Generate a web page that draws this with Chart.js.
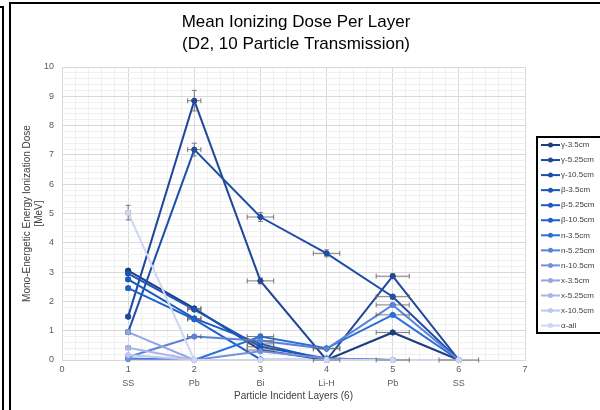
<!DOCTYPE html>
<html>
<head>
<meta charset="utf-8">
<script src="https://cdn.jsdelivr.net/npm/chart.js@4"></script>
<style>
  html, body { margin: 0; padding: 0; background: #fff; }
  #wrap { width: 600px; height: 410px; position: relative; }
</style>
</head>
<body>
<div id="wrap"><canvas id="myChart" width="600" height="410"></canvas></div>
<script>
// layers along x (1..6)
var xPos = [1, 2, 3, 4, 5, 6];
var layerNames = ["", "SS", "Pb", "Bi", "Li-H", "Pb", "SS", ""];

var seriesNames = ["γ-3.5cm", "γ-5.25cm", "γ-10.5cm", "β-3.5cm", "β-5.25cm", "β-10.5cm",
  "n-3.5cm", "n-5.25cm", "n-10.5cm", "x-3.5cm", "x-5.25cm", "x-10.5cm", "α-all"];

// mean dose per layer [MeV]
var gamma35  = [3.05, 1.76, 0.34, 0.00, 0.94, 0];
var gamma525 = [1.48, 8.85, 2.70, 0.00, 2.86, 0];
var gamma105 = [0.95, 7.18, 4.88, 3.64, 2.16, 0];
var beta35   = [2.95, 1.72, 0.45, 0.05, 0.00, 0];
var beta525  = [2.75, 1.42, 0.55, 0.00, 0.00, 0];
var beta105  = [2.45, 1.39, 0.02, 0.00, 0.00, 0];
var n35      = [0.05, 0.00, 0.80, 0.40, 1.54, 0];
var n525     = [0.10, 0.80, 0.66, 0.38, 1.88, 0];
var n105     = [0.02, 0.00, 0.30, 0.05, 0.00, 0];
var x35      = [0.95, 0.00, 0.00, 0.00, 0.00, 0];
var x525     = [0.42, 0.00, 0.00, 0.00, 0.00, 0];
var x105     = [0.17, 0.00, 0.00, 0.00, 0.00, 0];
var alphaAll = [5.03, 0.00, 0.00, 0.00, 0.00, 0];

var allValues = [gamma35, gamma525, gamma105, beta35, beta525, beta105,
  n35, n525, n105, x35, x525, x105, alphaAll];

// error bars (y in MeV, x in layer units)
var errY = [
  [0.05, 0.06, 0.06, 0, 0.06, 0],
  [0.05, 0.35, 0.10, 0, 0.08, 0],
  [0.04, 0.22, 0.15, 0.12, 0.08, 0],
  [0.05, 0.06, 0.04, 0, 0, 0],
  [0.05, 0.06, 0.04, 0, 0, 0],
  [0.05, 0.06, 0, 0, 0, 0],
  [0, 0, 0.08, 0.04, 0.04, 0],
  [0, 0, 0.06, 0.04, 0.04, 0],
  [0, 0, 0, 0, 0, 0],
  [0.04, 0, 0, 0, 0, 0],
  [0.04, 0, 0, 0, 0, 0],
  [0, 0, 0, 0, 0, 0],
  [0.25, 0, 0, 0, 0, 0]
];
var errX = [
  [0.03, 0.10, 0.20, 0, 0.25, 0],
  [0.03, 0.10, 0.20, 0.20, 0.25, 0.30],
  [0.03, 0.10, 0.20, 0.20, 0.25, 0],
  [0.03, 0.10, 0.20, 0, 0.25, 0],
  [0.03, 0.10, 0.20, 0, 0, 0],
  [0.03, 0.10, 0, 0, 0, 0],
  [0, 0, 0.20, 0.20, 0.25, 0],
  [0, 0.10, 0.20, 0.20, 0.25, 0],
  [0, 0, 0, 0, 0, 0],
  [0.03, 0, 0, 0, 0, 0],
  [0.03, 0, 0, 0, 0, 0],
  [0, 0, 0, 0, 0, 0],
  [0.03, 0, 0, 0, 0, 0]
];

var lineColors = ["#1d3d80", "#1f479a", "#1e4ea8", "#1b55b6", "#1a5bc2", "#1d62cc",
  "#2a6fd6", "#5b82d9", "#7590dc", "#93a5e2", "#a8b5e8", "#bdc7ee", "#cfd6f3"];

var datasets = seriesNames.map(function (name, i) {
  return {
    label: name,
    data: xPos.map(function (x, j) { return { x: x, y: allValues[i][j] }; }),
    showLine: true,
    borderColor: lineColors[i],
    backgroundColor: lineColors[i],
    pointBackgroundColor: lineColors[i],
    pointBorderColor: lineColors[i],
    pointBorderWidth: 1,
    borderWidth: 2,
    pointRadius: 2.5,
    pointHoverRadius: 2.5,
    order: seriesNames.length - i
  };
});

function isWhole(v) { return Math.abs(v - Math.round(v)) < 1e-6; }

var framePlugin = {
  id: "frame",
  beforeDraw: function (chart) {
    var c = chart.ctx;
    c.save();
    c.fillStyle = "#fff";
    c.fillRect(0, 0, chart.width, chart.height);
    c.strokeStyle = "#000";
    c.lineWidth = 2;
    c.beginPath();
    c.moveTo(0, 7); c.lineTo(3, 7); c.lineTo(3, 410);
    c.moveTo(10, 410); c.lineTo(10, 3); c.lineTo(600, 3);
    c.stroke();
    // title
    c.fillStyle = "#000";
    c.font = "17px 'Liberation Sans', Arial, sans-serif";
    c.textAlign = "center";
    c.textBaseline = "middle";
    c.fillText("Mean Ionizing Dose Per Layer", 296, 22);
    c.fillText("(D2, 10 Particle Transmission)", 296, 44);
    c.restore();
  }
};

var errorBarPlugin = {
  id: "errorBars",
  afterDatasetsDraw: function (chart) {
    var c = chart.ctx, xs = chart.scales.x, ys = chart.scales.y;
    c.save();
    c.strokeStyle = "rgba(100,100,100,0.85)";
    c.lineWidth = 1;
    allValues.forEach(function (vals, i) {
      vals.forEach(function (v, j) {
        var px = xs.getPixelForValue(xPos[j]), py = ys.getPixelForValue(v);
        c.beginPath();
        if (errY[i][j] > 0) {
          var t = ys.getPixelForValue(v + errY[i][j]), b = ys.getPixelForValue(v - errY[i][j]);
          c.moveTo(px, t); c.lineTo(px, b);
          c.moveTo(px - 2.5, t); c.lineTo(px + 2.5, t);
          c.moveTo(px - 2.5, b); c.lineTo(px + 2.5, b);
        }
        if (errX[i][j] > 0) {
          var l = xs.getPixelForValue(xPos[j] - errX[i][j]), r = xs.getPixelForValue(xPos[j] + errX[i][j]);
          c.moveTo(l, py); c.lineTo(r, py);
          c.moveTo(l, py - 2.5); c.lineTo(l, py + 2.5);
          c.moveTo(r, py - 2.5); c.lineTo(r, py + 2.5);
        }
        c.stroke();
      });
    });
    // redraw markers on top of the bars, same stacking as the datasets
    var metas = chart.getSortedVisibleDatasetMetas();
    for (var k = metas.length - 1; k >= 0; k--) {
      metas[k].data.forEach(function (pt) { pt.draw(c, chart.chartArea); });
    }
    c.restore();
  }
};

var legendPlugin = {
  id: "sideLegend",
  afterDraw: function (chart) {
    var c = chart.ctx;
    c.save();
    c.strokeStyle = "#000";
    c.lineWidth = 2;
    c.strokeRect(537, 137, 80, 196);
    c.font = "8px 'Liberation Sans', Arial, sans-serif";
    c.textBaseline = "middle";
    c.textAlign = "left";
    seriesNames.forEach(function (name, i) {
      var y = 145 + i * 15.05;
      c.strokeStyle = lineColors[i];
      c.fillStyle = lineColors[i];
      c.lineWidth = 2;
      c.beginPath(); c.moveTo(541, y); c.lineTo(560, y); c.stroke();
      c.beginPath(); c.arc(550.5, y, 2.5, 0, Math.PI * 2); c.fill();
      c.fillStyle = "#404040";
      c.fillText(name, 561, y);
    });
    c.restore();
  }
};

Chart.defaults.font.family = "'Liberation Sans', Arial, sans-serif";

new Chart("myChart", {
  type: "scatter",
  data: { datasets: datasets },
  plugins: [framePlugin, errorBarPlugin, legendPlugin],
  options: {
    responsive: false,
    animation: false,
    layout: { padding: { left: 0, right: 75, top: 67, bottom: 0 } },
    plugins: {
      legend: { display: false },
      title: { display: false },
      tooltip: { enabled: false }
    },
    scales: {
      x: {
        type: "linear",
        min: 0, max: 7,
        afterFit: function (s) { s.height = 50; },
        ticks: {
          stepSize: 0.2,
          autoSkip: false,
          maxRotation: 0,
          padding: 3,
          color: "#595959",
          font: { size: 9, lineHeight: 1.55 },
          callback: function (v) {
            if (!isWhole(v)) return "";
            var k = Math.round(v);
            return [String(k), layerNames[k]];
          }
        },
        grid: {
          drawTicks: false,
          color: function (ctx) { return isWhole(ctx.tick.value) ? "#d9d9d9" : "#f0f0f0"; }
        },
        border: { color: "#d9d9d9" },
        title: {
          display: true,
          text: "Particle Incident Layers (6)",
          color: "#404040",
          font: { size: 10, lineHeight: 1.2 },
          padding: { top: 0, bottom: 8 }
        }
      },
      y: {
        min: 0, max: 10,
        afterFit: function (s) { s.width = 62; },
        ticks: {
          stepSize: 0.2,
          autoSkip: false,
          padding: 8,
          color: "#595959",
          font: { size: 9 },
          callback: function (v) { return isWhole(v) ? String(Math.round(v)) : ""; }
        },
        grid: {
          drawTicks: false,
          color: function (ctx) { return isWhole(ctx.tick.value) ? "#d9d9d9" : "#f0f0f0"; }
        },
        border: { color: "#d9d9d9" },
        title: {
          display: true,
          text: ["Mono-Energetic Energy Ionization Dose", "[MeV]"],
          color: "#404040",
          font: { size: 10, lineHeight: 1.2 },
          padding: { top: 21, bottom: 0 }
        }
      }
    }
  }
});
</script>
</body>
</html>
